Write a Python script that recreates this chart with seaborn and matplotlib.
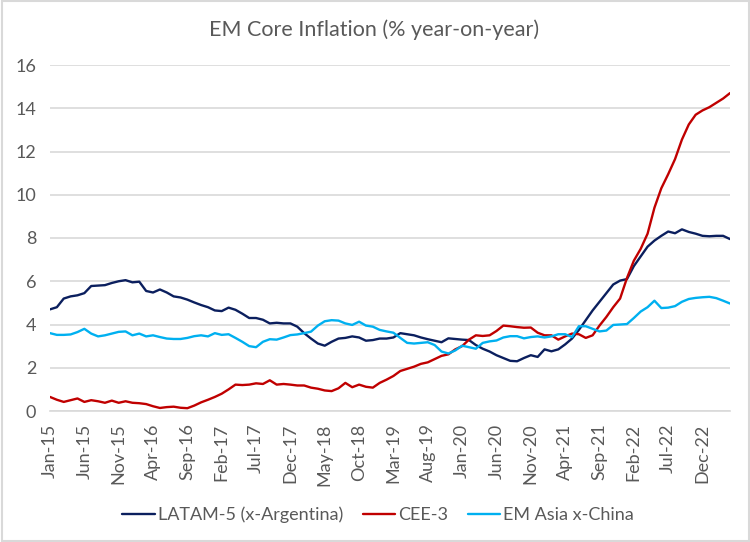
import numpy as np
import pandas as pd
import matplotlib
matplotlib.use("Agg")
import matplotlib.pyplot as plt
import seaborn as sns

# ---------------- data (monthly, Jan-15 .. Apr-23) ----------------
months = pd.date_range("2015-01-01", periods=100, freq="MS")

latam = [4.70, 4.80, 5.20, 5.30, 5.35, 5.45, 5.78, 5.80, 5.82, 5.92,
         6.00, 6.05, 5.95, 5.98, 5.55, 5.48, 5.62, 5.48, 5.30, 5.25,
         5.15, 5.02, 4.90, 4.80, 4.65, 4.62, 4.78, 4.68, 4.50, 4.30,
         4.30, 4.22, 4.05, 4.08, 4.05, 4.05, 3.90, 3.60, 3.35, 3.12,
         3.02, 3.20, 3.35, 3.38, 3.45, 3.40, 3.25, 3.28, 3.35, 3.35,
         3.40, 3.60, 3.55, 3.50, 3.40, 3.32, 3.25, 3.18, 3.36, 3.33,
         3.30, 3.28, 3.05, 2.88, 2.75, 2.58, 2.45, 2.32, 2.30, 2.45,
         2.58, 2.50, 2.85, 2.76, 2.85, 3.08, 3.35, 3.75, 4.20, 4.65,
         5.05, 5.45, 5.85, 6.03, 6.10, 6.70, 7.15, 7.60, 7.88, 8.10,
         8.30, 8.22, 8.40, 8.28, 8.20, 8.10, 8.08, 8.10, 8.10, 7.95]

cee = [0.65, 0.52, 0.42, 0.50, 0.58, 0.42, 0.50, 0.45, 0.38, 0.48,
       0.38, 0.45, 0.38, 0.36, 0.32, 0.22, 0.14, 0.18, 0.20, 0.15,
       0.13, 0.25, 0.40, 0.52, 0.65, 0.80, 1.00, 1.22, 1.20, 1.22,
       1.28, 1.25, 1.42, 1.22, 1.25, 1.22, 1.18, 1.18, 1.08, 1.03,
       0.95, 0.92, 1.05, 1.30, 1.10, 1.22, 1.12, 1.08, 1.30, 1.45,
       1.62, 1.85, 1.95, 2.05, 2.18, 2.25, 2.40, 2.55, 2.62, 2.85,
       3.00, 3.30, 3.50, 3.47, 3.50, 3.70, 3.95, 3.92, 3.88, 3.85,
       3.86, 3.62, 3.50, 3.50, 3.30, 3.45, 3.58, 3.55, 3.38, 3.50,
       3.95, 4.35, 4.80, 5.20, 6.15, 6.95, 7.50, 8.20, 9.40, 10.30,
       10.95, 11.65, 12.55, 13.25, 13.70, 13.90, 14.05, 14.25, 14.45, 14.70]

asia = [3.60, 3.52, 3.52, 3.54, 3.65, 3.80, 3.58, 3.45, 3.50, 3.58,
        3.66, 3.68, 3.50, 3.58, 3.45, 3.50, 3.42, 3.35, 3.33, 3.33,
        3.38, 3.46, 3.50, 3.45, 3.60, 3.52, 3.55, 3.38, 3.20, 3.00,
        2.95, 3.20, 3.32, 3.30, 3.40, 3.51, 3.54, 3.60, 3.67, 3.95,
        4.15, 4.20, 4.18, 4.05, 3.98, 4.13, 3.95, 3.90, 3.75, 3.68,
        3.62, 3.38, 3.15, 3.12, 3.15, 3.18, 3.05, 2.75, 2.66, 2.80,
        3.02, 2.95, 2.88, 3.15, 3.22, 3.26, 3.40, 3.46, 3.46, 3.36,
        3.42, 3.45, 3.40, 3.45, 3.55, 3.55, 3.42, 3.92, 3.92, 3.80,
        3.68, 3.72, 3.98, 4.00, 4.02, 4.30, 4.60, 4.80, 5.10, 4.76,
        4.78, 4.85, 5.05, 5.18, 5.23, 5.26, 5.28, 5.22, 5.10, 4.97]

series_names = ["LATAM-5 (x-Argentina)", "CEE-3", "EM Asia x-China"]
series_colors = ["#0B1F5E", "#C00000", "#00B0F0"]

tick_labels = ["Jan-15", "Jun-15", "Nov-15", "Apr-16", "Sep-16", "Feb-17",
               "Jul-17", "Dec-17", "May-18", "Oct-18", "Mar-19", "Aug-19",
               "Jan-20", "Jun-20", "Nov-20", "Apr-21", "Sep-21", "Feb-22",
               "Jul-22", "Dec-22"]
y_ticks = [0, 2, 4, 6, 8, 10, 12, 14, 16]

# ---------------- long table ----------------
idx = np.arange(len(months))
df = pd.concat([
    pd.DataFrame({"idx": idx, "value": vals, "series": name})
    for name, vals in zip(series_names, [latam, cee, asia])
], ignore_index=True)

# ---------------- plot ----------------
sns.set_theme(style="white")
plt.rcParams["font.family"] = ["Lato", "DejaVu Sans"]
text_col = "#595959"
grid_col = "#D9D9D9"

fig = plt.figure(figsize=(7.5, 5.42), dpi=100)
ax = fig.add_axes([50 / 750, 1 - 411 / 542, 680 / 750, 346 / 542])

sns.lineplot(data=df, x="idx", y="value", hue="series",
             palette=dict(zip(series_names, series_colors)),
             hue_order=series_names, linewidth=1.7, ax=ax, legend=True)

ax.set_xlim(0, len(months) - 1)
ax.set_ylim(0, 16)
ax.set_yticks(y_ticks)
ax.set_yticklabels([str(t) for t in y_ticks])
ax.set_xticks(np.arange(0, len(months), 5)[:len(tick_labels)])
ax.set_xticklabels(tick_labels, rotation=90)
ax.set_xlabel("")
ax.set_ylabel("")

ax.yaxis.grid(True, color=grid_col, linewidth=1.2)
ax.set_axisbelow(True)
for s in ["top", "right", "left"]:
    ax.spines[s].set_visible(False)
ax.spines["bottom"].set_color(grid_col)
ax.spines["bottom"].set_linewidth(1.2)

ax.tick_params(axis="y", length=0, labelsize=13, labelcolor=text_col, pad=10)
ax.tick_params(axis="x", length=5, width=1.2, color=grid_col, direction="out",
               labelsize=13, labelcolor=text_col, pad=4)

fig.text(374 / 750, 1 - 30 / 542, "EM Core Inflation (% year-on-year)",
         fontsize=15.5, color=text_col, ha="center", va="center")

handles, labels = ax.get_legend_handles_labels()
ax.legend(handles, labels, loc="center", bbox_to_anchor=(378 / 750, 1 - 515 / 542),
          bbox_transform=fig.transFigure, ncol=3, frameon=False,
          fontsize=13, handlelength=1.8, handletextpad=0.15, columnspacing=1.1,
          labelcolor=text_col)

# light frame around the whole chart
fig.patches.append(matplotlib.patches.Rectangle(
    (0.002, 0.002), 0.996, 0.996, transform=fig.transFigure,
    fill=False, edgecolor="#D9D9D9", linewidth=1.5))

fig.savefig("out.png", dpi=100, facecolor="white")
